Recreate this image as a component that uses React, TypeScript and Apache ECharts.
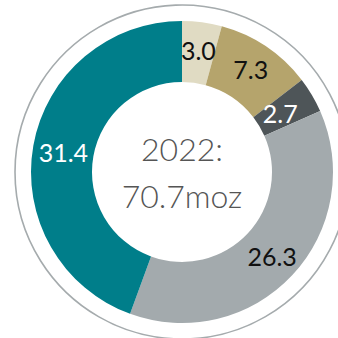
import React, { useEffect, useRef } from "react";
import * as echarts from "echarts";

const categories = ["A", "B", "C", "D", "E"];
const values = [3.0, 7.3, 2.7, 26.3, 31.4];
const colors = ["#e0dbc3", "#b5a46c", "#4e5558", "#a3aaad", "#007e8a"];
const labelColors = ["#111111", "#111111", "#ffffff", "#111111", "#ffffff"];
const centerLines = ["2022:", "70.7moz"];

export default function App() {
  const ref = useRef<HTMLDivElement>(null);
  useEffect(() => {
    if (!ref.current) return;
    const chart = echarts.init(ref.current, undefined, { renderer: "svg" });
    const font = "Lato";
    chart.setOption({
      animation: false,
      graphic: [
        {
          type: "circle",
          shape: { cx: 182, cy: 172, r: 167 },
          style: { fill: "none", stroke: "#a5abad", lineWidth: 1.6 },
          silent: true,
        },
        {
          type: "text",
          x: 182,
          y: 148,
          style: {
            text: centerLines[0],
            fill: "#555555",
            font: `300 32px "${font}"`,
            textAlign: "center",
            textVerticalAlign: "middle",
          },
        },
        {
          type: "text",
          x: 182,
          y: 195,
          style: {
            text: centerLines[1],
            fill: "#555555",
            font: `300 32px "${font}"`,
            textAlign: "center",
            textVerticalAlign: "middle",
          },
        },
      ],
      series: [
        {
          type: "pie",
          center: [182, 172],
          radius: [90, 151],
          startAngle: 90,
          clockwise: true,
          silent: true,
          label: {
            show: true,
            position: "inside",
            fontFamily: font,
            fontSize: 25,
            fontWeight: 400,
            formatter: (p: any) => values[p.dataIndex].toFixed(1),
          },
          labelLine: { show: false },
          data: categories.map((c, i) => ({
            name: c,
            value: values[i],
            itemStyle: { color: colors[i] },
            label: {
              color: labelColors[i],
              offset: i === 2 ? [-8, 4] : i === 4 ? [3, 2] : [0, 0],
            },
          })),
        },
      ],
    });
    return () => chart.dispose();
  }, []);
  return (
    <div
      ref={ref}
      style={{ position: "fixed", left: 0, top: 0, width: 338, height: 338, background: "#fff" }}
    />
  );
}
